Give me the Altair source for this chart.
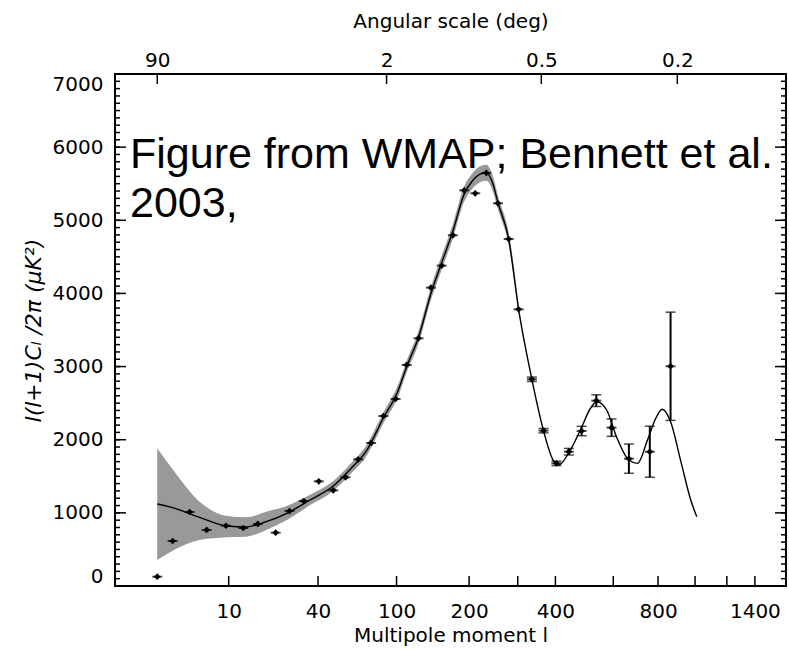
import altair as alt
import pandas as pd

# ---- binned data points (multipole l, power in uK^2) ----
bin_l = [2, 3, 4.5, 6.5, 9.5, 13, 16.6, 22, 27, 33, 40.4, 48.6, 56.5, 65.6, 76, 87, 99,
         111, 125, 141, 156, 173, 191.5, 211, 232, 255.5, 279, 302, 335, 366, 403, 441,
         483, 535, 593, 665, 760, 864]
bin_power = [127, 615, 1012, 766, 824, 793, 848, 729, 1025, 1162, 1431, 1308, 1486, 1732,
             1955, 2324, 2557, 3022, 3387, 4079, 4380, 4795, 5410, 5369, 5647, 5232, 4744,
             3783, 2826, 2124, 1677, 1836, 2119, 2534, 2165, 1741, 1836, 3004]

# ---- vertical error bars (high-l bins) ----
err_l = [335, 366, 403, 441, 483, 535, 593, 665, 760, 864]
err_power = [2826, 2124, 1677, 1836, 2119, 2534, 2165, 1741, 1836, 3004]
err_size = [30, 30, 30, 45, 64, 80, 119, 200, 349, 740]

# ---- best-fit model curve ----
model_l = [2, 3, 5.6, 9.7, 13.7, 19, 26, 36, 48.6, 60, 72.5, 87, 101, 111, 125, 141, 156,
           173, 191, 205, 220, 232, 244, 256, 279, 302, 335, 366, 393, 410, 440, 479, 514,
           537, 574, 613, 665, 703, 749, 789, 821, 864, 922, 975, 1010]
model_power = [1121, 1071, 939, 820, 808, 879, 994, 1176, 1367, 1600, 1859, 2300, 2650,
               3000, 3400, 4000, 4420, 4850, 5350, 5530, 5630, 5650, 5520, 5232, 4744, 3783,
               2826, 2124, 1723, 1654, 1814, 2133, 2430, 2520, 2406, 2041, 1723, 1677, 1996,
               2293, 2416, 2246, 1677, 1176, 948]

# ---- cosmic variance band ----
band_l = [2, 3, 5.6, 9.7, 13.7, 19, 26, 36, 48.6, 60, 72.5, 87, 101, 111, 125, 141, 156,
          173, 191, 205, 220, 232, 244, 256, 279, 302]
band_lo = [355, 483, 629, 666, 674, 766, 902, 1106, 1300, 1530, 1785, 2225, 2570, 2920,
           3315, 3910, 4325, 4750, 5245, 5425, 5520, 5540, 5415, 5140, 4660, 3720]
band_hi = [1883, 1595, 1153, 957, 939, 1016, 1094, 1246, 1435, 1670, 1935, 2375, 2730,
           3080, 3485, 4090, 4515, 4950, 5455, 5635, 5740, 5760, 5625, 5325, 4830, 3850]

# ---- axis labels / ticks ----
x_label_values = [10, 40, 100, 200, 400, 800, 1400]
x_tick_values = [10, 40, 100, 200, 300, 400, 600, 800, 1000, 1200, 1400]
angle_deg = [90, 2, 0.5, 0.2]
angle_l = [180 / d for d in angle_deg]
y_major = [0, 1000, 2000, 3000, 4000, 5000, 6000, 7000]
y_minor = list(range(0, 7001, 100))

annotation = "Figure from WMAP; Bennett et al.\n2003,"
x_title = "Multipole moment l"
top_title = "Angular scale (deg)"
y_title = "l(l+1)Cₗ  /2π  (μK²)"

W, H = 671, 512

points_df = pd.DataFrame({"l": bin_l, "p": bin_power})
err_df = pd.DataFrame({"l": err_l, "p": err_power, "e": err_size})
err_df["lo"] = err_df["p"] - err_df["e"]
err_df["hi"] = err_df["p"] + err_df["e"]
model_df = pd.DataFrame({"l": model_l, "p": model_power})
band_df = pd.DataFrame({"l": band_l, "lo": band_lo, "hi": band_hi})
xt_df = pd.DataFrame({"l": x_tick_values})
at_df = pd.DataFrame({"l": angle_l})
ymaj_df = pd.DataFrame({"v": y_major})
ymin_df = pd.DataFrame({"v": y_minor})

xscale = alt.Scale(type="pow", exponent=0.25, domain=[0.5, 1650], nice=False, zero=False)
yscale = alt.Scale(domain=[0, 7000], nice=False, zero=False)

ax_bottom = alt.Axis(orient="bottom", values=x_label_values, ticks=False, domain=False,
                     labelPadding=15, title=x_title, titlePadding=4, format="d")
ax_top = alt.Axis(orient="top", values=angle_l, ticks=False, domain=False, labelPadding=4,
                  labelExpr="format(180/datum.value, '')", title=top_title, titlePadding=19)
ax_left = alt.Axis(orient="left", values=y_major, ticks=False, domain=False, labelFlush=True,
                   labelPadding=12, title=y_title, titlePadding=7, format="d",
                   titleFontStyle="italic", titleFontSize=22)

band = alt.Chart(band_df).mark_area(color="#999999", interpolate="monotone").encode(
    x=alt.X("l:Q", scale=xscale, axis=ax_bottom),
    y=alt.Y("lo:Q", scale=yscale, axis=ax_left),
    y2="hi:Q",
)
line = alt.Chart(model_df).mark_line(color="black", strokeWidth=1.4, interpolate="monotone").encode(
    x=alt.X("l:Q", scale=xscale, axis=ax_top),
    y=alt.Y("p:Q", scale=yscale, axis=None),
)

# inward tick marks drawn at the tick values through the scales
tick_style = dict(color="black", strokeWidth=1.5)
bottom_ticks = alt.Chart(xt_df).mark_rule(**tick_style).encode(
    x=alt.X("l:Q", scale=xscale, axis=None), y=alt.value(H - 10), y2=alt.value(H))
top_ticks = alt.Chart(at_df).mark_rule(**tick_style).encode(
    x=alt.X("l:Q", scale=xscale, axis=None), y=alt.value(0), y2=alt.value(10))
left_major = alt.Chart(ymaj_df).mark_rule(**tick_style).encode(
    y=alt.Y("v:Q", scale=yscale, axis=None), x=alt.value(0), x2=alt.value(11))
left_minor = alt.Chart(ymin_df).mark_rule(**tick_style).encode(
    y=alt.Y("v:Q", scale=yscale, axis=None), x=alt.value(0), x2=alt.value(5))
right_major = alt.Chart(ymaj_df).mark_rule(**tick_style).encode(
    y=alt.Y("v:Q", scale=yscale, axis=None), x=alt.value(W - 11), x2=alt.value(W))
right_minor = alt.Chart(ymin_df).mark_rule(**tick_style).encode(
    y=alt.Y("v:Q", scale=yscale, axis=None), x=alt.value(W - 5), x2=alt.value(W))

err_rules = alt.Chart(err_df).mark_rule(color="black", strokeWidth=2).encode(
    x=alt.X("l:Q", scale=xscale, axis=None),
    y=alt.Y("lo:Q", scale=yscale, axis=None),
    y2="hi:Q",
)
caps = alt.Chart(err_df).transform_fold(["lo", "hi"], as_=["k", "v"]).mark_tick(
    orient="horizontal", color="black", size=10, thickness=1.5).encode(
    x=alt.X("l:Q", scale=xscale, axis=None),
    y=alt.Y("v:Q", scale=yscale, axis=None),
)
pt_bars = alt.Chart(points_df).mark_tick(orient="horizontal", color="black", size=10,
                                         thickness=2).encode(
    x=alt.X("l:Q", scale=xscale, axis=None),
    y=alt.Y("p:Q", scale=yscale, axis=None),
)
pts = alt.Chart(points_df).mark_point(shape="diamond", filled=True, color="black",
                                      size=45, opacity=1).encode(
    x=alt.X("l:Q", scale=xscale, axis=None),
    y=alt.Y("p:Q", scale=yscale, axis=None),
)
note = alt.Chart(pd.DataFrame({"t": [annotation]})).mark_text(
    align="left", baseline="alphabetic", font="Liberation Sans", fontSize=43,
    lineBreak="\n", lineHeight=49, color="black").encode(
    text="t:N", x=alt.value(15), y=alt.value(94))

chart = alt.layer(
    band, line, bottom_ticks, top_ticks, left_major, left_minor, right_major, right_minor,
    err_rules, caps, pt_bars, pts, note
).resolve_axis(x="independent", y="independent").properties(
    width=W, height=H,
    autosize=alt.AutoSizeParams(type="none"),
    padding={"left": 115, "top": 74, "right": 3, "bottom": 63},
).configure_view(stroke="black", strokeWidth=2).configure_axis(
    grid=False, labelFont="DejaVu Sans", labelFontSize=20, labelColor="black",
    titleFont="DejaVu Sans", titleFontSize=20, titleFontWeight="normal", titleColor="black",
)

chart.save("out.html", embed_options={"renderer": "svg", "actions": False})
